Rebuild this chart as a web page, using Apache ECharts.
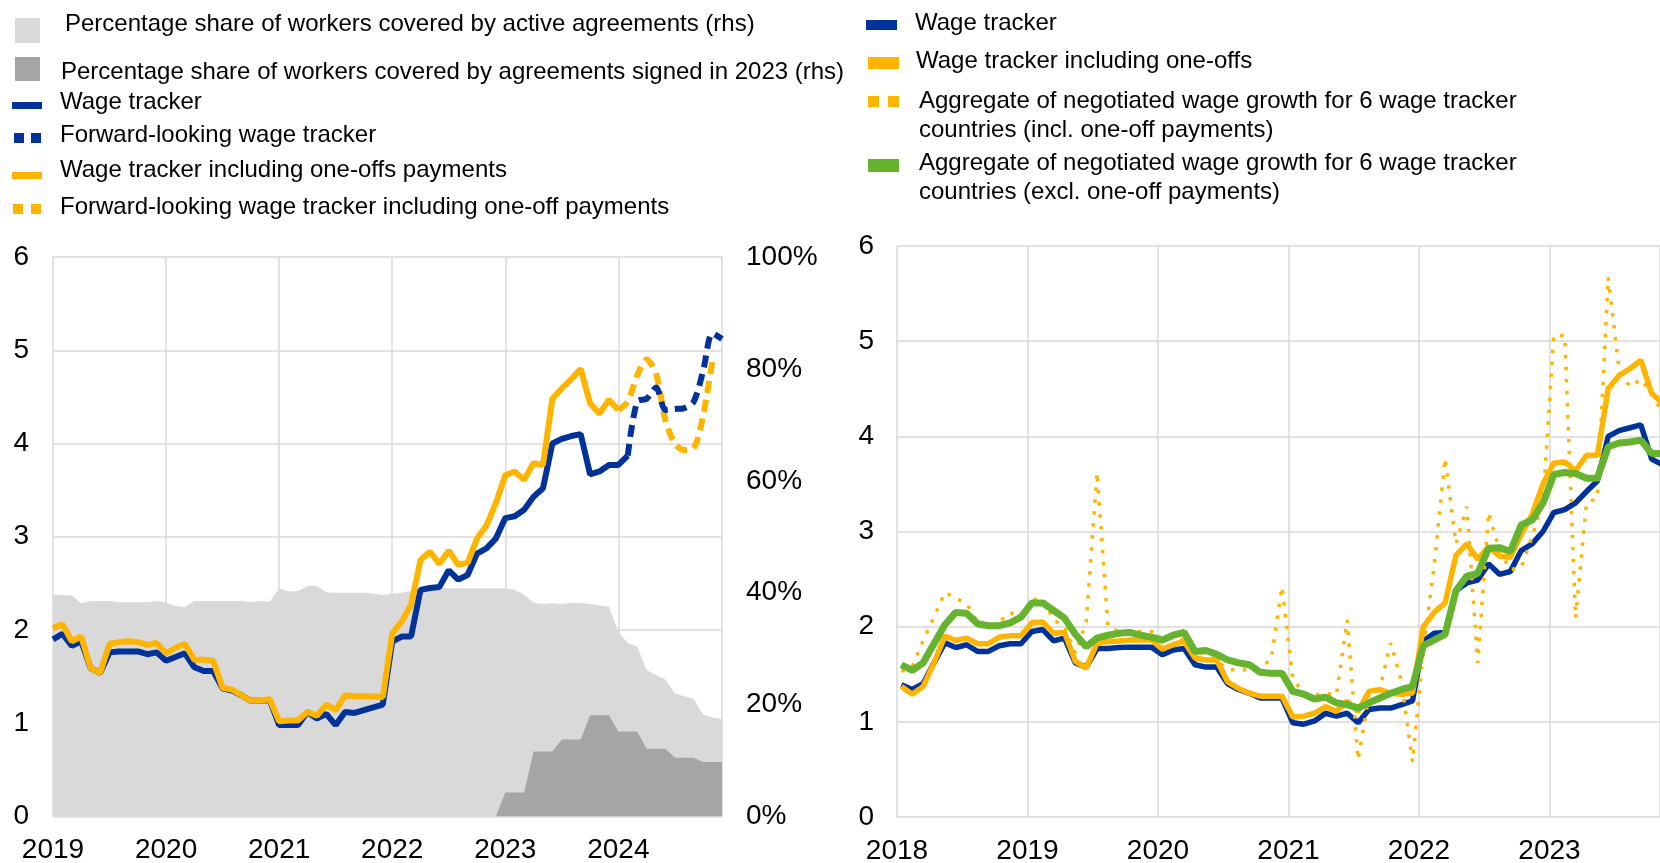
<!DOCTYPE html>
<html>
<head>
<meta charset="utf-8">
<script src="https://cdn.jsdelivr.net/npm/echarts@6/dist/echarts.min.js"></script>
<style>
html,body{margin:0;padding:0;background:#ffffff;}
#chart{width:1660px;height:863px;}
</style>
</head>
<body>
<div id="chart"></div>
<script>
// ---------------- DATA ----------------
// Left panel: monthly values starting January 2019
const wageTrackerL = [
  1.90, 1.96, 1.83, 1.88, 1.59, 1.54, 1.76, 1.77, 1.77, 1.77, 1.74, 1.76,
  1.67, 1.71, 1.75, 1.60, 1.56, 1.56, 1.375, 1.35, 1.30, 1.24, 1.24, 1.25,
  0.98, 0.98, 0.98, 1.12, 1.05, 1.10, 0.98, 1.12, 1.11, 1.14, 1.17, 1.20,
  1.875, 1.93, 1.93, 2.43, 2.45, 2.46, 2.64, 2.54, 2.59, 2.82, 2.875, 2.98,
  3.20, 3.22, 3.29, 3.43, 3.52, 4.00, 4.05, 4.08, 4.10, 3.67, 3.70, 3.77,
  3.77, 3.87
];
const wageTrackerOneOffL = [
  2.02, 2.06, 1.88, 1.93, 1.59, 1.54, 1.85, 1.87, 1.88, 1.87, 1.84, 1.86,
  1.75, 1.81, 1.85, 1.68, 1.68, 1.67, 1.38, 1.36, 1.30, 1.24, 1.24, 1.26,
  1.02, 1.03, 1.03, 1.12, 1.08, 1.20, 1.14, 1.30, 1.29, 1.29, 1.29, 1.28,
  1.96, 2.09, 2.27, 2.75, 2.84, 2.71, 2.85, 2.70, 2.72, 2.98, 3.12, 3.36,
  3.66, 3.70, 3.61, 3.79, 3.77, 4.48, 4.59, 4.69, 4.80, 4.43, 4.32, 4.47,
  4.36
];
// forward-looking, starting February 2024
const fwdWageTrackerL = [3.87, 4.45, 4.48, 4.60, 4.36, 4.37, 4.38, 4.45, 4.78, 5.18, 5.12];
// forward-looking incl. one-offs, starting January 2024
const fwdWageTrackerOneOffL = [4.36, 4.45, 4.73, 4.90, 4.75, 4.25, 4.00, 3.93, 3.95, 4.30, 4.90];
// percentage shares (rhs), active agreements, starting January 2019
const activeShareL = [
  39.6, 39.6, 39.5, 38.1, 38.5, 38.5, 38.5, 38.3, 38.3, 38.3, 38.3, 38.5,
  38.2, 37.6, 37.4, 38.5, 38.5, 38.5, 38.5, 38.5, 38.5, 38.3, 38.5, 38.4,
  40.8, 40.2, 40.3, 41.2, 41.2, 40.1, 40.0, 40.0, 40.0, 40.0, 39.8, 39.6,
  39.8, 40.0, 40.3, 40.7, 40.8, 40.8, 40.8, 40.8, 40.8, 40.8, 40.8, 40.8,
  40.8, 40.5, 39.7, 38.2, 38.0, 38.1, 38.0, 38.2, 38.2, 38.0, 37.7, 37.5,
  33.0, 31.0, 30.4, 26.2, 25.3, 24.5, 22.0, 21.5, 21.0, 18.2, 17.7, 17.4
];
// agreements signed in 2023 (rhs), starting December 2022
const signed2023ShareL = [
  0, 4.3, 4.3, 4.3, 11.6, 11.6, 11.6, 13.75, 13.75, 13.75, 18.1, 18.1, 18.1,
  15.2, 15.2, 15.2, 12.1, 12.1, 12.1, 10.5, 10.5, 10.5, 9.75, 9.75, 9.75
];

// Right panel: monthly values starting January 2018
const wageTrackerR = [
  1.39, 1.34, 1.40, 1.62, 1.83, 1.78, 1.81, 1.74, 1.74, 1.80, 1.82, 1.82,
  1.95, 1.97, 1.85, 1.88, 1.62, 1.575, 1.77, 1.77, 1.78, 1.785, 1.785, 1.785,
  1.705, 1.755, 1.77, 1.60, 1.575, 1.575, 1.40, 1.34, 1.30, 1.25, 1.25, 1.25,
  0.99, 0.975, 1.01, 1.09, 1.06, 1.09, 0.99, 1.13, 1.145, 1.145, 1.18, 1.22,
  1.85, 1.93, 1.94, 2.38, 2.46, 2.49, 2.66, 2.55, 2.58, 2.80, 2.87, 3.00,
  3.20, 3.23, 3.30, 3.42, 3.53, 4.00, 4.06, 4.09, 4.12, 3.76, 3.70, 3.72
];
const wageTrackerOneOffR = [
  1.37, 1.29, 1.37, 1.62, 1.90, 1.855, 1.88, 1.82, 1.82, 1.89, 1.905, 1.905,
  2.04, 2.05, 1.93, 1.94, 1.635, 1.565, 1.83, 1.845, 1.85, 1.86, 1.86, 1.86,
  1.765, 1.81, 1.845, 1.67, 1.65, 1.65, 1.42, 1.35, 1.30, 1.27, 1.27, 1.27,
  1.05, 1.06, 1.09, 1.16, 1.11, 1.215, 1.11, 1.32, 1.34, 1.30, 1.29, 1.30,
  2.00, 2.15, 2.25, 2.75, 2.87, 2.71, 2.84, 2.74, 2.73, 2.97, 3.18, 3.50,
  3.72, 3.73, 3.64, 3.80, 3.80, 4.50, 4.64, 4.71, 4.80, 4.45, 4.35, 4.30
];
const aggInclOneOffR = [
  1.53, 1.58, 1.85, 2.10, 2.36, 2.30, 2.24, 2.05, 1.97, 2.05, 2.15, 2.08,
  2.28, 2.30, 2.07, 2.00, 1.72, 2.05, 3.62, 2.00, 1.95, 1.95, 1.95, 1.95,
  1.86, 1.92, 1.85, 1.76, 1.70, 1.65, 1.55, 1.54, 1.55, 1.58, 1.65, 2.42,
  1.45, 1.30, 1.28, 1.30, 1.28, 2.07, 0.60, 1.28, 1.35, 1.83, 1.42, 0.58,
  1.75, 2.65, 3.77, 2.87, 3.26, 1.62, 3.20, 2.80, 2.60, 2.62, 2.95, 3.30,
  5.06, 5.06, 2.09, 3.30, 3.35, 5.67, 4.70, 4.52, 4.60, 4.45, 4.24, 4.20
];
const aggExclOneOffR = [
  1.60, 1.54, 1.62, 1.82, 2.02, 2.15, 2.14, 2.03, 2.01, 2.01, 2.04, 2.10,
  2.25, 2.25, 2.17, 2.09, 1.92, 1.79, 1.88, 1.91, 1.93, 1.94, 1.91, 1.89,
  1.86, 1.91, 1.94, 1.74, 1.75, 1.71, 1.65, 1.62, 1.60, 1.52, 1.51, 1.51,
  1.32, 1.29, 1.24, 1.26, 1.20, 1.18, 1.145, 1.20, 1.25, 1.30, 1.34, 1.37,
  1.80, 1.86, 1.92, 2.38, 2.53, 2.56, 2.825, 2.83, 2.79, 3.07, 3.12, 3.30,
  3.60, 3.62, 3.61, 3.56, 3.56, 3.89, 3.93, 3.94, 3.96, 3.82, 3.82, 3.82
];

// ---------------- HELPERS ----------------
// month index 0 = January of startYear; shift = horizontal placement inside the month
function monthly(startYear, startMonth, values, shift) {
  return values.map(function (v, i) {
    return [startYear + (startMonth + i + (shift || 0)) / 12, v];
  });
}

const BLUE = '#003299', YELLOW = '#FFB400', GREEN = '#65B32E';
const LIGHT = '#D9D9D9', DARK = '#A5A5A5', GRID = '#D9D9D9';
const FONT = '"Liberation Sans", Arial, sans-serif';
const intLabel = function (v) { return Math.abs(v - Math.round(v)) < 1e-6 ? String(Math.round(v)) : ''; };

const axisLabelStyle = { color: '#000', fontSize: 28, fontFamily: FONT };
const splitStyle = { show: true, lineStyle: { color: GRID, width: 1.5 } };

const RSHIFT = 0.4;

// ---------------- LEGEND (graphic) ----------------
function txt(x, y, text, extra) {
  return { type: 'text', left: x, top: y, silent: true,
    style: Object.assign({ text: text, x: 0, y: 0, fill: '#000', font: '24px ' + FONT }, extra || {}) };
}
function box(x, y, w, h, color) {
  return { type: 'rect', left: x, top: y, silent: true, shape: { width: w, height: h }, style: { fill: color } };
}
const legendGraphics = [
  box(15, 18, 25, 25, LIGHT), txt(65, 12, 'Percentage share of workers covered by active agreements (rhs)'),
  box(15, 57, 25, 24, DARK), txt(61, 60, 'Percentage share of workers covered by agreements signed in 2023 (rhs)'),
  box(12, 102, 30, 7, BLUE), txt(60, 90, 'Wage tracker'),
  box(14, 133, 10, 10, BLUE), box(31, 133, 10, 10, BLUE), txt(60, 123, 'Forward-looking wage tracker'),
  box(12, 172, 30, 7, YELLOW), txt(60, 158, 'Wage tracker including one-offs payments'),
  box(13, 204, 10, 10, YELLOW), box(31, 204, 10, 10, YELLOW), txt(60, 195, 'Forward-looking wage tracker including one-off payments'),

  box(866, 20, 31, 10, BLUE), txt(915, 11, 'Wage tracker'),
  box(868, 57, 31, 12, YELLOW), txt(916, 49, 'Wage tracker including one-offs'),
  box(868, 96, 11, 11, YELLOW), box(888, 96, 11, 11, YELLOW),
  txt(919, 87, 'Aggregate of negotiated wage growth for 6 wage tracker\ncountries (incl. one-off payments)', { lineHeight: 29 }),
  box(868, 159, 31, 13, GREEN),
  txt(919, 149, 'Aggregate of negotiated wage growth for 6 wage tracker\ncountries (excl. one-off payments)', { lineHeight: 29 })
];

// ---------------- CHART ----------------
const chart = echarts.init(document.getElementById('chart'), null, { renderer: 'canvas' });
const option = {
  animation: false,
  backgroundColor: '#ffffff',
  graphic: legendGraphics,
  grid: [
    { left: 53, top: 257, width: 669, height: 559.5, containLabel: false, outerBoundsMode: 'none' },
    { left: 897, top: 246, width: 763, height: 571, containLabel: false, outerBoundsMode: 'none' }
  ],
  xAxis: [
    { type: 'value', gridIndex: 0, min: 2019, max: 2024 + 11 / 12, interval: 1,
      axisLine: { show: false }, axisTick: { show: false }, splitLine: splitStyle,
      axisLabel: Object.assign({ formatter: intLabel, margin: 20 }, axisLabelStyle) },
    { type: 'value', gridIndex: 1, min: 2018, max: 2018 + 763 / 130.5, interval: 1,
      axisLine: { show: false }, axisTick: { show: false }, splitLine: splitStyle,
      axisLabel: Object.assign({ formatter: intLabel, margin: 20 }, axisLabelStyle) }
  ],
  yAxis: [
    { type: 'value', gridIndex: 0, min: 0, max: 6, interval: 1, position: 'left',
      axisLine: { show: false }, axisTick: { show: false }, splitLine: splitStyle,
      axisLabel: Object.assign({ margin: 24 }, axisLabelStyle) },
    { type: 'value', gridIndex: 0, min: 0, max: 100, interval: 20, position: 'right',
      axisLine: { show: false }, axisTick: { show: false }, splitLine: { show: false },
      axisLabel: Object.assign({ margin: 24, formatter: '{value}%' }, axisLabelStyle) },
    { type: 'value', gridIndex: 1, min: 0, max: 6, interval: 1, position: 'left',
      axisLine: { show: false }, axisTick: { show: false }, splitLine: splitStyle,
      axisLabel: Object.assign({ margin: 23 }, axisLabelStyle) }
  ],
  series: [
    { name: 'Percentage share of workers covered by active agreements (rhs)', type: 'line',
      xAxisIndex: 0, yAxisIndex: 1, symbol: 'none', lineStyle: { width: 0 },
      areaStyle: { color: LIGHT, opacity: 1 }, data: monthly(2019, 0, activeShareL) },
    { name: 'Percentage share of workers covered by agreements signed in 2023 (rhs)', type: 'line',
      xAxisIndex: 0, yAxisIndex: 1, symbol: 'none', lineStyle: { width: 0 },
      areaStyle: { color: DARK, opacity: 1 }, data: monthly(2022, 11, signed2023ShareL) },
    { name: 'Wage tracker', type: 'line', xAxisIndex: 0, yAxisIndex: 0, symbol: 'none',
      lineStyle: { color: BLUE, width: 6 }, data: monthly(2019, 0, wageTrackerL) },
    { name: 'Wage tracker including one-offs payments', type: 'line', xAxisIndex: 0, yAxisIndex: 0, symbol: 'none',
      lineStyle: { color: YELLOW, width: 6 }, data: monthly(2019, 0, wageTrackerOneOffL) },
    { name: 'Forward-looking wage tracker including one-off payments', type: 'line', xAxisIndex: 0, yAxisIndex: 0,
      symbol: 'none', smooth: 0.3,
      lineStyle: { color: YELLOW, width: 6, type: [12, 7] }, data: monthly(2024, 0, fwdWageTrackerOneOffL) },
    { name: 'Forward-looking wage tracker', type: 'line', xAxisIndex: 0, yAxisIndex: 0,
      symbol: 'none', smooth: 0.3,
      lineStyle: { color: BLUE, width: 6, type: [12, 7] }, data: monthly(2024, 1, fwdWageTrackerL) },

    { name: 'Wage tracker (rhs panel)', type: 'line', xAxisIndex: 1, yAxisIndex: 2, symbol: 'none',
      lineStyle: { color: BLUE, width: 5.5 }, data: monthly(2018, 0, wageTrackerR, RSHIFT) },
    { name: 'Wage tracker including one-offs', type: 'line', xAxisIndex: 1, yAxisIndex: 2, symbol: 'none',
      lineStyle: { color: YELLOW, width: 5.5 }, data: monthly(2018, 0, wageTrackerOneOffR, RSHIFT) },
    { name: 'Aggregate incl. one-off payments', type: 'line', xAxisIndex: 1, yAxisIndex: 2, symbol: 'none',
      lineStyle: { color: YELLOW, width: 3.5, type: [3.5, 8.5] }, data: monthly(2018, 0, aggInclOneOffR, RSHIFT) },
    { name: 'Aggregate excl. one-off payments', type: 'line', xAxisIndex: 1, yAxisIndex: 2, symbol: 'none',
      lineStyle: { color: GREEN, width: 7 }, data: monthly(2018, 0, aggExclOneOffR, RSHIFT) }
  ]
};
chart.setOption(option);
</script>
</body>
</html>
